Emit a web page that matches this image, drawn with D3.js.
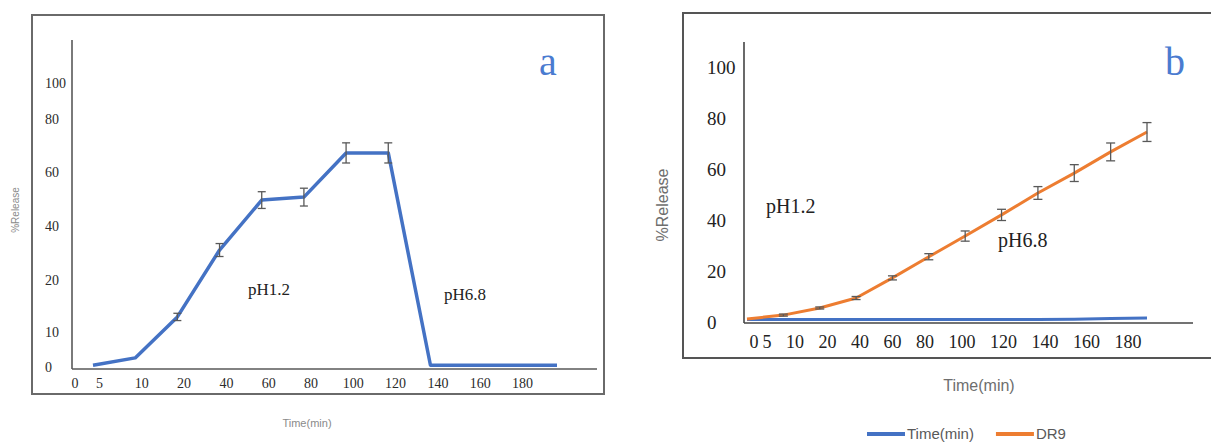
<!DOCTYPE html>
<html>
<head>
<meta charset="utf-8">
<script src="https://cdn.jsdelivr.net/npm/d3@7"></script>
<style>
  body { margin: 0; background: #fff; }
  svg { display: block; }
</style>
</head>
<body>
<svg id="chart" width="1211" height="444"></svg>
<script>
// tick labels shown under both charts
const timeLabels = ["0", "5", "10", "20", "40", "60", "80", "100", "120", "140", "160", "180"];
// sampling points (one per plotted marker)
const sampleNo = [1, 2, 3, 4, 5, 6, 7, 8, 9, 10, 11, 12];

// chart a
const yTicksA = [0, 10, 20, 40, 60, 80, 100];
const releaseA = [0.5, 2.6, 12.9, 31.1, 49.6, 50.7, 67.2, 67.2, 0.5, 0.5, 0.5, 0.5];
const errorA = [0, 0, 0.7, 2.4, 3.1, 3.3, 3.8, 3.8, 0, 0, 0, 0];

// chart b
const yTicksB = [0, 20, 40, 60, 80, 100];
const timeSeriesB = [1.0, 1.0, 1.0, 1.0, 1.0, 1.0, 1.0, 1.0, 1.0, 1.1, 1.4, 1.6];
const dr9B = [1.2, 2.7, 5.5, 9.4, 17.3, 25.6, 33.7, 42.0, 50.6, 58.4, 66.7, 74.5];
const errorB = [0, 0.4, 0.4, 0.6, 0.8, 1.2, 2.0, 2.2, 2.5, 3.3, 3.5, 3.7];
const legendB = ["Time(min)", "DR9"];

const serif = '"Liberation Serif", "Times New Roman", serif';
const sans = '"Liberation Sans", Arial, sans-serif';
const grey = '#595959';
const blue = '#4472C4';
const orange = '#ED7D31';

const svg = d3.select('#chart');

function errorBars(g, xs, ys, vals, errs, cap) {
  const rows = vals.map((v, i) => ({ s: sampleNo[i], v, e: errs[i] })).filter(d => d.e > 0);
  const eb = g.append('g').attr('stroke', grey).attr('stroke-width', 1.3);
  eb.selectAll('line.v').data(rows).enter().append('line')
    .attr('x1', d => xs(d.s)).attr('x2', d => xs(d.s))
    .attr('y1', d => ys(d.v - d.e)).attr('y2', d => ys(d.v + d.e));
  eb.selectAll('line.t').data(rows).enter().append('line')
    .attr('x1', d => xs(d.s) - cap).attr('x2', d => xs(d.s) + cap)
    .attr('y1', d => ys(d.v + d.e)).attr('y2', d => ys(d.v + d.e));
  eb.selectAll('line.b').data(rows).enter().append('line')
    .attr('x1', d => xs(d.s) - cap).attr('x2', d => xs(d.s) + cap)
    .attr('y1', d => ys(d.v - d.e)).attr('y2', d => ys(d.v - d.e));
}

// ================= chart a =================
const a = svg.append('g');

a.append('rect')
  .attr('x', 32).attr('y', 15).attr('width', 572).attr('height', 379)
  .attr('fill', 'none').attr('stroke', '#6a6a6a').attr('stroke-width', 2);

const xA = d3.scalePoint().domain(sampleNo).range([93, 557]);
// the printed y axis is not evenly spaced, so the scale is piecewise
const yA = d3.scaleLinear().domain(yTicksA).range([367, 332, 280, 226, 172, 119, 83]);

a.append('line').attr('x1', 72).attr('x2', 72).attr('y1', 40).attr('y2', 369)
  .attr('stroke', grey).attr('stroke-width', 1.6);
a.append('line').attr('x1', 72).attr('x2', 597).attr('y1', 369).attr('y2', 369)
  .attr('stroke', grey).attr('stroke-width', 1.6);

a.append('g')
  .attr('transform', 'translate(45,0)')
  .call(d3.axisLeft(yA).tickValues(yTicksA).tickSize(0).tickPadding(0))
  .call(g => g.select('.domain').remove())
  .attr('font-family', serif).attr('font-size', 14)
  .selectAll('text').attr('x', 0).attr('text-anchor', 'start').attr('fill', '#2b2b2b');

// x labels: "0" sits at the origin, the rest are spread along the axis
const xLabA = d3.scalePoint().domain(timeLabels.slice(1)).range([99, 522]);
a.append('text').attr('x', 75).attr('y', 383).attr('dy', '0.35em')
  .attr('text-anchor', 'middle').attr('font-family', serif).attr('font-size', 14)
  .attr('fill', '#2b2b2b').text(timeLabels[0]);
a.append('g')
  .attr('transform', 'translate(0,378)')
  .call(d3.axisBottom(xLabA).tickSize(0).tickPadding(0))
  .call(g => g.select('.domain').remove())
  .attr('font-family', serif).attr('font-size', 14)
  .selectAll('text').attr('fill', '#2b2b2b');

a.append('path')
  .datum(releaseA.map((v, i) => ({ s: sampleNo[i], v })))
  .attr('fill', 'none').attr('stroke', blue).attr('stroke-width', 3.5)
  .attr('stroke-linejoin', 'round')
  .attr('d', d3.line().x(d => xA(d.s)).y(d => yA(d.v)));

errorBars(a, xA, yA, releaseA, errorA, 4);

a.append('text').attr('x', 248).attr('y', 295)
  .attr('font-family', serif).attr('font-size', 17).attr('fill', '#222').text('pH1.2');
a.append('text').attr('x', 444).attr('y', 300)
  .attr('font-family', serif).attr('font-size', 17).attr('fill', '#222').text('pH6.8');
a.append('text').attr('x', 539).attr('y', 75)
  .attr('font-family', serif).attr('font-size', 40).attr('fill', '#4a7bd0').text('a');

a.append('text')
  .attr('transform', 'translate(15,210) rotate(-90)')
  .attr('text-anchor', 'middle').attr('dy', '0.35em')
  .attr('font-family', sans).attr('font-size', 10).attr('fill', '#8a8a8a').text('%Release');
a.append('text').attr('x', 307).attr('y', 423).attr('dy', '0.35em')
  .attr('text-anchor', 'middle')
  .attr('font-family', sans).attr('font-size', 11).attr('fill', '#8a8a8a').text('Time(min)');

// ================= chart b =================
const b = svg.append('g');

b.append('rect')
  .attr('x', 683).attr('y', 13).attr('width', 600).attr('height', 345)
  .attr('fill', 'none').attr('stroke', '#555').attr('stroke-width', 2);

const xB = d3.scalePoint().domain(sampleNo).range([747, 1147]);
const yB = d3.scaleLinear().domain([0, 100]).range([322, 67]);

b.append('line').attr('x1', 744).attr('x2', 744).attr('y1', 42).attr('y2', 323)
  .attr('stroke', '#444').attr('stroke-width', 1.6);
b.append('line').attr('x1', 744).attr('x2', 1193).attr('y1', 323).attr('y2', 323)
  .attr('stroke', '#444').attr('stroke-width', 1.6);

b.append('g')
  .attr('transform', 'translate(707,0)')
  .call(d3.axisLeft(yB).tickValues(yTicksB).tickSize(0).tickPadding(0))
  .call(g => g.select('.domain').remove())
  .attr('font-family', serif).attr('font-size', 19)
  .selectAll('text').attr('x', 0).attr('text-anchor', 'start').attr('fill', '#222');

// x labels are written as one line of text, like in the source figure
const xText = b.append('text')
  .attr('x', 749.5).attr('y', 342).attr('dy', '0.35em')
  .attr('font-family', serif).attr('font-size', 18).attr('fill', '#222');
xText.selectAll('tspan').data(timeLabels).enter().append('tspan')
  .attr('dx', (d, i) => i === 0 ? 0 : (i === 1 ? 4 : 14.5))
  .text(d => d);

const lineB = d3.line().x(d => xB(d.s)).y(d => yB(d.v));
b.append('path')
  .datum(timeSeriesB.map((v, i) => ({ s: sampleNo[i], v })))
  .attr('fill', 'none').attr('stroke', blue).attr('stroke-width', 3)
  .attr('stroke-linejoin', 'round').attr('d', lineB);
b.append('path')
  .datum(dr9B.map((v, i) => ({ s: sampleNo[i], v })))
  .attr('fill', 'none').attr('stroke', orange).attr('stroke-width', 3)
  .attr('stroke-linejoin', 'round').attr('d', lineB);

errorBars(b, xB, yB, dr9B, errorB, 4.5);

b.append('text').attr('x', 766).attr('y', 213)
  .attr('font-family', serif).attr('font-size', 20).attr('fill', '#222').text('pH1.2');
b.append('text').attr('x', 998).attr('y', 247)
  .attr('font-family', serif).attr('font-size', 20).attr('fill', '#222').text('pH6.8');
b.append('text').attr('x', 1165).attr('y', 75)
  .attr('font-family', serif).attr('font-size', 40).attr('fill', '#4a7bd0').text('b');

b.append('text')
  .attr('transform', 'translate(662,205) rotate(-90)')
  .attr('text-anchor', 'middle').attr('dy', '0.35em')
  .attr('font-family', sans).attr('font-size', 16).attr('fill', '#6e6e6e').text('%Release');
b.append('text').attr('x', 979).attr('y', 385).attr('dy', '0.35em')
  .attr('text-anchor', 'middle')
  .attr('font-family', sans).attr('font-size', 16).attr('fill', '#6e6e6e').text('Time(min)');

// legend
const legColors = [blue, orange];
const leg = b.append('g').attr('transform', 'translate(867,434)');
let lx = 0;
legendB.forEach((name, i) => {
  const item = leg.append('g').attr('transform', `translate(${lx},0)`);
  item.append('line').attr('x1', 0).attr('x2', 38).attr('y1', 0).attr('y2', 0)
    .attr('stroke', legColors[i]).attr('stroke-width', 4);
  const t = item.append('text').attr('x', 40).attr('dy', '0.35em')
    .attr('font-family', sans).attr('font-size', 15).attr('fill', '#595959').text(name);
  lx += 40 + t.node().getComputedTextLength() + 22;
});
</script>
</body>
</html>
